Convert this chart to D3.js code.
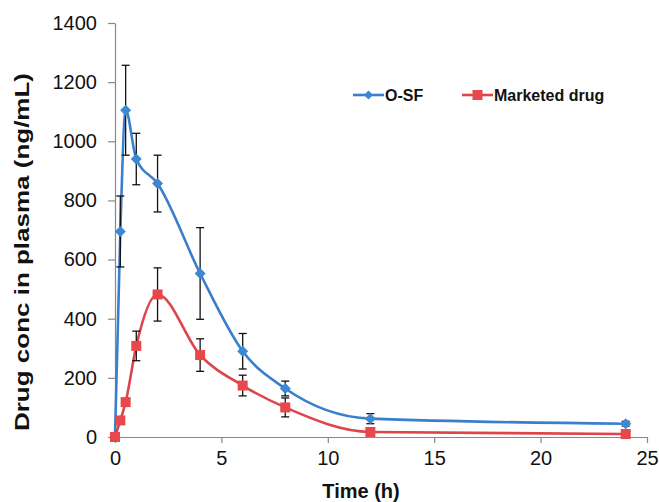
<!DOCTYPE html>
<html>
<head>
<meta charset="utf-8">
<script src="https://cdn.jsdelivr.net/npm/d3@7"></script>
<style>
  body { margin: 0; background: #fff; }
  text { font-family: "Liberation Sans", Arial, sans-serif; }
</style>
</head>
<body>
<script>
// sampling times (h)
var times = [0, 0.25, 0.5, 1, 2, 4, 6, 8, 12, 24];
// O-SF mean and error
var osfMean = [0, 695, 1105, 940, 857, 553, 290, 164, 62, 45];
var osfErr  = [0, 120, 152, 87, 96, 155, 60, 25, 17, 8];
// Marketed drug mean and error
var mktMean = [0, 56, 118, 308, 482, 277, 174, 100, 17, 10];
var mktErr  = [0, 5, 12, 50, 90, 55, 35, 32, 8, 5];

var xTicks = [0, 5, 10, 15, 20, 25];
var yTicks = [0, 200, 400, 600, 800, 1000, 1200, 1400];

var series = [
  {name: "O-SF", mean: osfMean, err: osfErr, color: "#3a7fcb", fill: "#3d87d3", shape: "diamond"},
  {name: "Marketed drug", mean: mktMean, err: mktErr, color: "#de4449", fill: "#e8474c", shape: "square"}
];

var width = 659, height = 502;
var margin = {top: 23, right: 12, bottom: 65, left: 115};

var x = d3.scaleLinear().domain([0, 25]).range([margin.left, 647]);
var y = d3.scaleLinear().domain([0, 1400]).range([437, margin.top]);

var svg = d3.select("body").append("svg")
    .attr("width", width)
    .attr("height", height);

// axes
var xAxis = svg.append("g")
    .attr("transform", "translate(0," + y(0) + ")")
    .call(d3.axisBottom(x).tickValues(xTicks).tickFormat(d3.format("d"))
      .tickSize(6).tickSizeOuter(0).tickPadding(8));
var yAxis = svg.append("g")
    .attr("transform", "translate(" + x(0) + ",0)")
    .call(d3.axisLeft(y).tickValues(yTicks).tickFormat(d3.format("d"))
      .tickSize(7).tickSizeOuter(0).tickPadding(11));

[xAxis, yAxis].forEach(function(g) {
  g.select(".domain").attr("stroke", "#888").attr("stroke-width", 1.2);
  g.selectAll(".tick line").attr("stroke", "#888").attr("stroke-width", 1.2);
  g.selectAll(".tick text")
    .attr("font-family", "Liberation Sans, Arial, sans-serif")
    .attr("font-size", "20px")
    .attr("fill", "#111");
});

// axis titles
svg.append("text")
    .attr("x", 361)
    .attr("y", 498)
    .attr("text-anchor", "middle")
    .attr("font-size", "20px")
    .attr("font-weight", "bold")
    .attr("fill", "#111")
    .text("Time (h)");

svg.append("text")
    .attr("transform", "translate(29,252) rotate(-90)")
    .attr("text-anchor", "middle")
    .attr("font-size", "21px")
    .attr("font-weight", "bold")
    .attr("fill", "#111")
    .attr("textLength", 358)
    .attr("lengthAdjust", "spacingAndGlyphs")
    .text("Drug conc in plasma (ng/mL)");

var line = d3.line()
    .x(function(d) { return x(d.t); })
    .y(function(d) { return y(d.v); })
    .curve(d3.curveMonotoneX);

function marker(g, shape, fill, size) {
  if (shape === "diamond") {
    g.append("path")
      .attr("d", "M0," + (-size) + "L" + size + ",0L0," + size + "L" + (-size) + ",0Z")
      .attr("fill", fill);
  } else {
    g.append("rect")
      .attr("x", -size).attr("y", -size)
      .attr("width", size * 2).attr("height", size * 2)
      .attr("fill", fill);
  }
}

series.forEach(function(s) {
  var pts = times.map(function(t, i) { return {t: t, v: s.mean[i], e: s.err[i]}; });

  svg.append("path")
      .datum(pts)
      .attr("d", line)
      .attr("fill", "none")
      .attr("stroke", s.color)
      .attr("stroke-width", 2.6);

  var eb = svg.append("g").selectAll("g")
      .data(pts.filter(function(d) { return d.e > 0; }))
    .enter().append("g")
      .attr("stroke", "#111")
      .attr("stroke-width", 1.3);
  eb.append("line")
      .attr("x1", function(d) { return x(d.t); })
      .attr("x2", function(d) { return x(d.t); })
      .attr("y1", function(d) { return y(d.v + d.e); })
      .attr("y2", function(d) { return y(d.v - d.e); });
  eb.append("line")
      .attr("x1", function(d) { return x(d.t) - 4; })
      .attr("x2", function(d) { return x(d.t) + 4; })
      .attr("y1", function(d) { return y(d.v + d.e); })
      .attr("y2", function(d) { return y(d.v + d.e); });
  eb.append("line")
      .attr("x1", function(d) { return x(d.t) - 4; })
      .attr("x2", function(d) { return x(d.t) + 4; })
      .attr("y1", function(d) { return y(d.v - d.e); })
      .attr("y2", function(d) { return y(d.v - d.e); });

  svg.append("g").selectAll("g")
      .data(pts)
    .enter().append("g")
      .attr("transform", function(d) { return "translate(" + x(d.t) + "," + y(d.v) + ")"; })
      .each(function() {
        marker(d3.select(this), s.shape, s.fill, s.shape === "diamond" ? 5.5 : 5);
      });
});

// legend
var legendX = [353, 462];
var legend = svg.selectAll(".legend")
    .data(series)
  .enter().append("g")
    .attr("class", "legend")
    .attr("transform", function(d, i) { return "translate(" + legendX[i] + ",95)"; });

legend.append("line")
    .attr("x1", 0).attr("x2", 31)
    .attr("stroke", function(d) { return d.color; })
    .attr("stroke-width", 2.6);
legend.append("g")
    .attr("transform", "translate(15.5,0)")
    .each(function(d) { marker(d3.select(this), d.shape, d.fill, d.shape === "diamond" ? 4.5 : 5); });
legend.append("text")
    .attr("x", 32)
    .attr("y", 6)
    .attr("font-size", "16px")
    .attr("font-weight", "bold")
    .attr("fill", "#111")
    .text(function(d) { return d.name; });
</script>
</body>
</html>
